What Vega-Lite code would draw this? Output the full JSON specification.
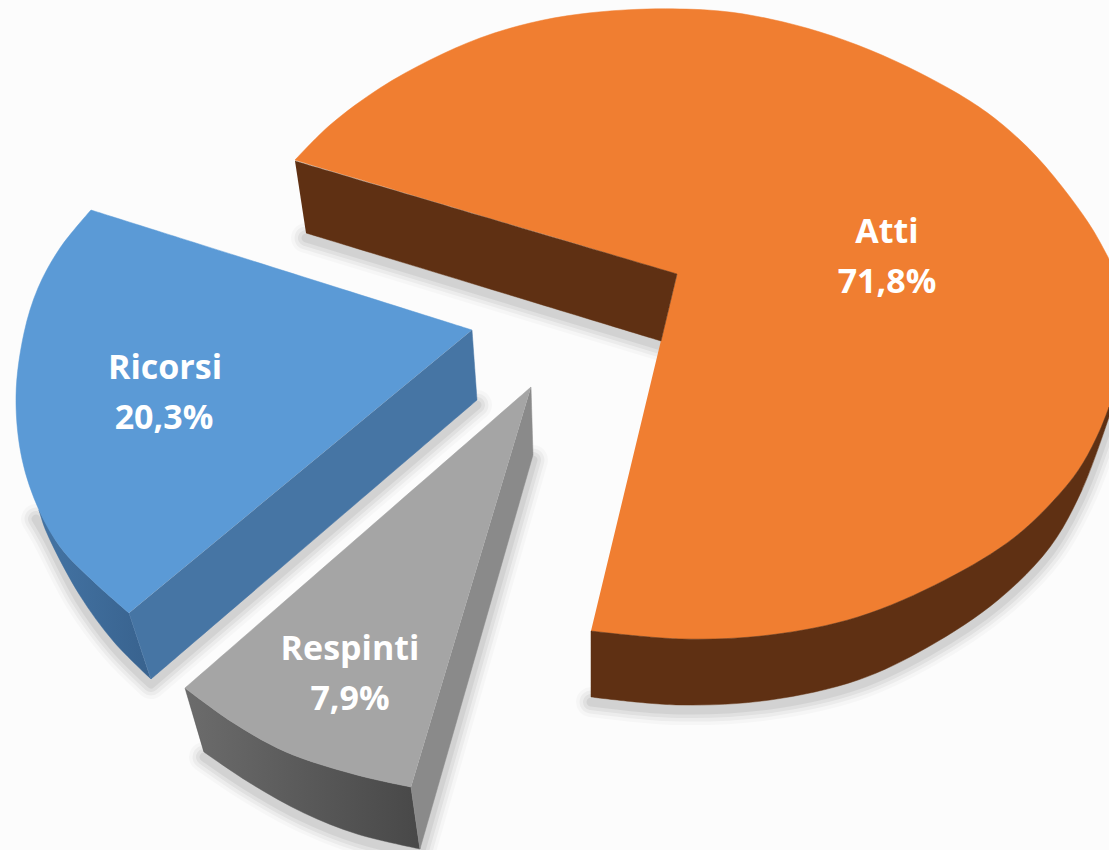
{"$schema":"https://vega.github.io/schema/vega-lite/v6.json","width":1109,"height":850,"padding":0,"autosize":{"type":"none"},"background":"#fcfcfc","view":{"stroke":null},
"datasets":{
"shadow":[
{"p":"a","i":1,"x":1109,"y":417},{"p":"a","i":2,"x":1082,"y":490},{"p":"a","i":3,"x":1050,"y":547},{"p":"a","i":4,"x":998,"y":600},{"p":"a","i":5,"x":928,"y":647},{"p":"a","i":6,"x":858,"y":680},{"p":"a","i":7,"x":770,"y":700},{"p":"a","i":8,"x":679,"y":705},{"p":"a","i":9,"x":591,"y":697},
{"p":"b","i":1,"x":306,"y":233},{"p":"b","i":2,"x":661,"y":341},
{"p":"c","i":1,"x":36,"y":514},{"p":"c","i":2,"x":46,"y":531},{"p":"c","i":3,"x":79,"y":594},{"p":"c","i":4,"x":114,"y":642},{"p":"c","i":5,"x":151,"y":679},{"p":"c","i":5,"x":151,"y":679},{"p":"c","i":6,"x":477,"y":400},
{"p":"d","i":1,"x":204,"y":752},{"p":"d","i":2,"x":250,"y":783},{"p":"d","i":3,"x":304,"y":813},{"p":"d","i":4,"x":357,"y":834},{"p":"d","i":5,"x":420,"y":849},{"p":"d","i":5,"x":420,"y":849},{"p":"d","i":6,"x":533,"y":455}
],
"flat":[
{"face":"Atti top","i":1,"x":677,"y":274},{"face":"Atti top","i":1,"x":677,"y":274},{"face":"Atti top","i":2,"x":295,"y":160},{"face":"Atti top","i":2,"x":295,"y":160},{"face":"Atti top","i":3,"x":330,"y":125},{"face":"Atti top","i":4,"x":380,"y":88},{"face":"Atti top","i":5,"x":430,"y":60},{"face":"Atti top","i":6,"x":480,"y":38},{"face":"Atti top","i":7,"x":530,"y":23},{"face":"Atti top","i":8,"x":580,"y":14},{"face":"Atti top","i":9,"x":647,"y":9},{"face":"Atti top","i":10,"x":720,"y":11},{"face":"Atti top","i":11,"x":770,"y":19},{"face":"Atti top","i":12,"x":820,"y":32},{"face":"Atti top","i":13,"x":870,"y":50},{"face":"Atti top","i":14,"x":920,"y":73},{"face":"Atti top","i":15,"x":970,"y":101},{"face":"Atti top","i":16,"x":1003,"y":125},{"face":"Atti top","i":17,"x":1037,"y":157},{"face":"Atti top","i":18,"x":1070,"y":197},{"face":"Atti top","i":19,"x":1093,"y":230},{"face":"Atti top","i":20,"x":1109,"y":259},{"face":"Atti top","i":20,"x":1109,"y":259},{"face":"Atti top","i":21,"x":1109,"y":407},{"face":"Atti top","i":21,"x":1109,"y":407},{"face":"Atti top","i":22,"x":1100,"y":430},{"face":"Atti top","i":23,"x":1083,"y":463},{"face":"Atti top","i":24,"x":1063,"y":490},{"face":"Atti top","i":25,"x":1015,"y":537},{"face":"Atti top","i":26,"x":945,"y":580},{"face":"Atti top","i":27,"x":858,"y":617},{"face":"Atti top","i":28,"x":770,"y":635},{"face":"Atti top","i":29,"x":682,"y":639},{"face":"Atti top","i":30,"x":591,"y":631},{"face":"Atti top","i":30,"x":591,"y":631},
{"face":"Atti cut","i":1,"x":295,"y":161},{"face":"Atti cut","i":1,"x":295,"y":161},{"face":"Atti cut","i":2,"x":677,"y":274},{"face":"Atti cut","i":2,"x":677,"y":274},{"face":"Atti cut","i":3,"x":661,"y":341},{"face":"Atti cut","i":3,"x":661,"y":341},{"face":"Atti cut","i":4,"x":306,"y":233},{"face":"Atti cut","i":4,"x":306,"y":233},
{"face":"Atti side","i":1,"x":1109,"y":407},{"face":"Atti side","i":1,"x":1109,"y":407},{"face":"Atti side","i":2,"x":1109,"y":417},{"face":"Atti side","i":2,"x":1109,"y":417},{"face":"Atti side","i":3,"x":1082,"y":490},{"face":"Atti side","i":4,"x":1050,"y":547},{"face":"Atti side","i":5,"x":998,"y":600},{"face":"Atti side","i":6,"x":928,"y":647},{"face":"Atti side","i":7,"x":858,"y":680},{"face":"Atti side","i":8,"x":770,"y":700},{"face":"Atti side","i":9,"x":679,"y":705},{"face":"Atti side","i":10,"x":591,"y":697},{"face":"Atti side","i":10,"x":591,"y":697},{"face":"Atti side","i":11,"x":591,"y":631},{"face":"Atti side","i":11,"x":591,"y":631},{"face":"Atti side","i":12,"x":682,"y":639},{"face":"Atti side","i":13,"x":770,"y":635},{"face":"Atti side","i":14,"x":858,"y":617},{"face":"Atti side","i":15,"x":945,"y":580},{"face":"Atti side","i":16,"x":1015,"y":537},{"face":"Atti side","i":17,"x":1063,"y":490},{"face":"Atti side","i":18,"x":1083,"y":463},{"face":"Atti side","i":19,"x":1100,"y":430},{"face":"Atti side","i":20,"x":1109,"y":407},{"face":"Atti side","i":20,"x":1109,"y":407},
{"face":"Ricorsi top","i":1,"x":472,"y":330},{"face":"Ricorsi top","i":1,"x":472,"y":330},{"face":"Ricorsi top","i":2,"x":91,"y":210},{"face":"Ricorsi top","i":2,"x":91,"y":210},{"face":"Ricorsi top","i":3,"x":60,"y":248},{"face":"Ricorsi top","i":4,"x":38,"y":288},{"face":"Ricorsi top","i":5,"x":24,"y":333},{"face":"Ricorsi top","i":6,"x":16,"y":396},{"face":"Ricorsi top","i":7,"x":22,"y":459},{"face":"Ricorsi top","i":8,"x":39,"y":510},{"face":"Ricorsi top","i":9,"x":61,"y":548},{"face":"Ricorsi top","i":10,"x":93,"y":581},{"face":"Ricorsi top","i":11,"x":129,"y":613},{"face":"Ricorsi top","i":11,"x":129,"y":613},
{"face":"Ricorsi cut","i":1,"x":472,"y":330},{"face":"Ricorsi cut","i":1,"x":472,"y":330},{"face":"Ricorsi cut","i":2,"x":477,"y":400},{"face":"Ricorsi cut","i":2,"x":477,"y":400},{"face":"Ricorsi cut","i":3,"x":151,"y":679},{"face":"Ricorsi cut","i":3,"x":151,"y":679},{"face":"Ricorsi cut","i":4,"x":129,"y":613},{"face":"Ricorsi cut","i":4,"x":129,"y":613},
{"face":"Respinti top","i":1,"x":531,"y":387},{"face":"Respinti top","i":1,"x":531,"y":387},{"face":"Respinti top","i":2,"x":185,"y":688},{"face":"Respinti top","i":2,"x":185,"y":688},{"face":"Respinti top","i":3,"x":232,"y":722},{"face":"Respinti top","i":4,"x":286,"y":752},{"face":"Respinti top","i":5,"x":357,"y":775},{"face":"Respinti top","i":6,"x":411,"y":787},{"face":"Respinti top","i":6,"x":411,"y":787},
{"face":"Respinti cut","i":1,"x":531,"y":387},{"face":"Respinti cut","i":1,"x":531,"y":387},{"face":"Respinti cut","i":2,"x":533,"y":455},{"face":"Respinti cut","i":2,"x":533,"y":455},{"face":"Respinti cut","i":3,"x":420,"y":849},{"face":"Respinti cut","i":3,"x":420,"y":849},{"face":"Respinti cut","i":4,"x":411,"y":787},{"face":"Respinti cut","i":4,"x":411,"y":787}
],
"ricorsiSide":[
{"i":1,"x":39,"y":510},{"i":1,"x":39,"y":510},{"i":2,"x":61,"y":548},{"i":3,"x":93,"y":581},{"i":4,"x":129,"y":613},{"i":4,"x":129,"y":613},{"i":5,"x":151,"y":679},{"i":5,"x":151,"y":679},{"i":6,"x":114,"y":642},{"i":7,"x":79,"y":594},{"i":8,"x":46,"y":531},{"i":9,"x":39,"y":510},{"i":9,"x":39,"y":510}
],
"respintiSide":[
{"i":1,"x":185,"y":688},{"i":1,"x":185,"y":688},{"i":2,"x":232,"y":722},{"i":3,"x":286,"y":752},{"i":4,"x":357,"y":775},{"i":5,"x":411,"y":787},{"i":5,"x":411,"y":787},{"i":6,"x":420,"y":849},{"i":6,"x":420,"y":849},{"i":7,"x":357,"y":834},{"i":8,"x":304,"y":813},{"i":9,"x":250,"y":783},{"i":10,"x":204,"y":752},{"i":10,"x":204,"y":752},{"i":11,"x":185,"y":688},{"i":11,"x":185,"y":688}
],
"labels":[
{"category":"Atti","text":"Atti","x":887,"y":233},{"category":"Atti","text":"71,8%","x":887,"y":283},
{"category":"Ricorsi","text":"Ricorsi","x":165,"y":369},{"category":"Ricorsi","text":"20,3%","x":164,"y":419},
{"category":"Respinti","text":"Respinti","x":350,"y":650},{"category":"Respinti","text":"7,9%","x":350,"y":700}
]},
"encoding":{
"x":{"field":"x","type":"quantitative","axis":null,"scale":{"domain":[0,1109],"nice":false,"zero":false}},
"y":{"field":"y","type":"quantitative","axis":null,"scale":{"domain":[850,0],"nice":false,"zero":false}},
"order":{"field":"i","type":"quantitative"}
},
"layer":[
{"data":{"name":"shadow"},"mark":{"type":"line","interpolate":"catmull-rom","stroke":"#000000","strokeWidth":30,"opacity":0.025,"strokeCap":"round","strokeJoin":"round","yOffset":5},"encoding":{"detail":{"field":"p"}}},
{"data":{"name":"shadow"},"mark":{"type":"line","interpolate":"catmull-rom","stroke":"#000000","strokeWidth":23,"opacity":0.04,"strokeCap":"round","strokeJoin":"round","yOffset":5},"encoding":{"detail":{"field":"p"}}},
{"data":{"name":"shadow"},"mark":{"type":"line","interpolate":"catmull-rom","stroke":"#000000","strokeWidth":16,"opacity":0.05,"strokeCap":"round","strokeJoin":"round","yOffset":5},"encoding":{"detail":{"field":"p"}}},
{"data":{"name":"shadow"},"mark":{"type":"line","interpolate":"catmull-rom","stroke":"#000000","strokeWidth":9,"opacity":0.06,"strokeCap":"round","strokeJoin":"round","yOffset":5},"encoding":{"detail":{"field":"p"}}},
{"data":{"name":"ricorsiSide"},"mark":{"type":"line","interpolate":"catmull-rom","strokeWidth":0.5,"stroke":"#3f6b99","fill":{"gradient":"linear","x1":0,"y1":0,"x2":1,"y2":0,"stops":[{"offset":0,"color":"#4474a4"},{"offset":1,"color":"#38628e"}]}}},
{"data":{"name":"respintiSide"},"mark":{"type":"line","interpolate":"catmull-rom","strokeWidth":0.5,"stroke":"#5a5a5a","fill":{"gradient":"linear","x1":0,"y1":0,"x2":1,"y2":0,"stops":[{"offset":0,"color":"#6c6c6c"},{"offset":1,"color":"#484848"}]}}},
{"data":{"name":"flat"},"mark":{"type":"line","interpolate":"catmull-rom","strokeWidth":0.5},"encoding":{
"detail":{"field":"face"},
"fill":{"field":"face","type":"nominal","legend":null,"scale":{"domain":["Atti side","Atti cut","Atti top","Ricorsi cut","Ricorsi top","Respinti cut","Respinti top"],"range":["#5f3013","#5f3013","#f07e31","#4675a4","#5b9ad6","#8a8a8a","#a5a5a5"]}},
"stroke":{"field":"face","type":"nominal","legend":null,"scale":{"domain":["Atti side","Atti cut","Atti top","Ricorsi cut","Ricorsi top","Respinti cut","Respinti top"],"range":["#5f3013","#5f3013","#f07e31","#4675a4","#5b9ad6","#8a8a8a","#a5a5a5"]}}
}},
{"data":{"name":"labels"},"mark":{"type":"text","font":"Open Sans","fontWeight":"bold","fontSize":34,"color":"#ffffff","align":"center","baseline":"middle"},"encoding":{"text":{"field":"text","type":"nominal"}}}
]}
